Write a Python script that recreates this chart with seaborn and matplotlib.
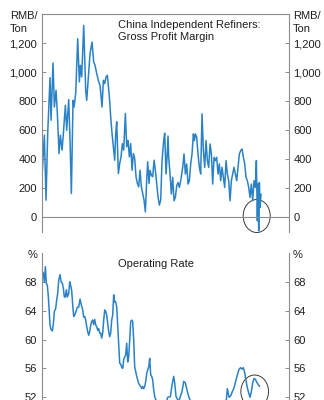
import matplotlib
matplotlib.use("Agg")
import matplotlib.pyplot as plt
import seaborn as sns
import pandas as pd
from matplotlib.patches import Ellipse

# ---- data (weeks since start of the time axis) ----
margin_week = [2, 8, 13, 18, 25, 28, 34, 38, 43, 47,
               52, 56, 61, 65, 71, 75, 81, 85, 89, 94,
               97, 102, 108, 113, 116, 120, 126, 132, 135, 140,
               145, 151, 156, 160, 165, 171, 175, 181, 185, 189,
               193, 197, 203, 207, 211, 215, 219, 222, 225, 230,
               234, 238, 242, 246, 251, 255, 259, 263, 267, 271,
               275, 279, 283, 287, 291, 295, 299, 303, 307, 311,
               315, 318, 322, 325, 329, 333, 337, 341, 345, 349,
               353, 357,
               361, 366, 369, 373, 376, 379, 381, 385, 389, 393,
               397, 401, 405, 409, 413, 417, 423, 427, 431, 435,
               439, 443, 447, 451, 455, 458, 461, 465, 469, 473,
               477, 481, 485, 489, 493, 497, 501, 505, 509, 513,
               517, 521, 525, 529, 533, 537, 541, 545, 549, 553,
               557, 561, 565, 569, 573, 577, 581, 585, 589, 593,
               597, 601, 605, 609, 613, 617, 621, 625, 629, 633,
               637, 641, 644, 647, 649, 651, 653, 655, 658]
margin_rmb = [325, 566, 119, 577, 962, 669, 1063, 760, 875, 715,
              440, 566, 463, 577, 772, 600, 811, 531, 165, 806,
              760, 852, 1230, 933, 1047, 967, 1322, 875, 806, 967,
              1127, 1207, 1070, 1047, 990, 933, 910, 760, 944, 921,
              967, 978, 829, 692, 577, 486, 394, 577, 658, 302,
              371, 417, 508, 463, 715, 486, 531, 417, 508, 325,
              440, 405, 280, 234, 211, 325, 211, 165, 119, 39,
              257, 383, 234, 325, 291, 280, 394, 325, 234, 142,
              85, 119,
              390, 529, 580, 299, 414, 560, 414, 299, 161, 276,
              115, 138, 218, 241, 207, 253, 345, 437, 299, 368,
              230, 253, 368, 437, 575, 529, 575, 552, 437, 345,
              299, 713, 460, 345, 529, 391, 345, 506, 437, 230,
              414, 391, 414, 299, 368, 253, 345, 276, 207, 391,
              299, 253, 115, 253, 299, 345, 299, 253, 345, 437,
              460, 471, 414, 368, 276, 253, 207, 138, 230, 115,
              253, 207, 391, -23, 230, -92, 241, 69, 161]

rate_week = [2, 5, 8, 11, 14, 17, 20, 23, 25, 28, 32, 35, 38, 42, 45, 48,
             51, 55, 58, 62, 65, 68, 71, 74, 77, 81, 84, 87, 90, 93, 96, 99,
             103, 107, 111, 115, 119, 123, 126, 129, 132, 135, 138, 141, 144,
             147, 150, 153, 156, 159, 162, 165, 168, 171, 174, 177, 180, 183,
             186, 189, 192, 195, 198, 201, 204, 207, 210, 213, 216, 219, 222,
             225, 228, 231, 234, 237, 240, 243, 246, 249, 252, 255, 258, 261,
             264, 267, 270, 273, 276, 279, 282, 285, 288, 291, 294, 297, 300,
             303, 306, 309, 312, 315, 318, 321, 324, 327, 330, 333, 336, 339,
             342, 346, 350, 355, 360, 365, 370, 375, 378, 386, 391, 396, 399,
             403, 411, 416, 421, 426, 431, 436, 441, 446, 452, 458, 464, 470,
             476, 482, 488, 494, 500, 506, 512, 518, 524, 530, 536, 542, 548,
             554, 557, 562, 567, 572, 577, 582, 587, 592, 597, 601, 605, 609,
             613, 617, 621, 625, 629, 633, 637, 641, 645, 649, 654]
rate_pct = [69.4, 69.2, 68.0, 70.1, 67.8, 67.5, 65.9, 63.6, 62.0, 61.4, 61.2,
            62.2, 63.9, 64.3, 65.5, 66.4, 68.2, 69.0, 68.0, 67.8, 67.1, 65.9,
            65.9, 66.9, 65.9, 66.4, 68.0, 67.5, 66.8, 64.8, 63.2, 63.4, 63.9,
            64.5, 64.5, 65.6, 64.8, 64.1, 63.1, 63.2, 62.7, 61.8, 61.1, 60.6,
            61.1, 62.0, 62.5, 62.7, 62.1, 62.8, 62.0, 61.8, 61.3, 61.5, 60.9,
            60.9, 60.2, 60.9, 62.7, 64.1, 63.9, 63.4, 62.2, 61.1, 60.4, 60.9,
            62.7, 63.4, 66.2, 65.2, 65.2, 64.5, 62.0, 59.2, 56.7, 56.6, 56.2,
            56.0, 57.2, 57.6, 57.9, 59.5, 56.9, 57.6, 59.9, 62.5, 62.7, 62.5,
            59.9, 56.2, 55.6, 54.9, 54.4, 53.9, 53.7, 53.5, 53.2, 53.5, 53.2,
            53.5, 54.2, 55.3, 55.8, 56.2, 57.4, 55.1, 54.9, 54.4, 53.0, 52.1,
            51.7, 51.4, 51.0, 50.6, 50.8, 51.2, 50.9, 51.5, 52.0, 52.1, 53.7,
            54.9, 54.0, 52.1, 51.4, 52.1, 52.8, 54.2, 54.0, 53.0, 52.1, 51.5,
            51.0, 50.5, 50.2, 50.6, 50.3, 49.8, 50.2, 50.7, 50.4, 50.0, 50.5,
            51.0, 50.7, 50.4, 50.9, 51.3, 51.0, 51.7, 53.2, 52.0, 52.2, 52.8,
            53.3, 54.2, 55.1, 55.9, 56.1, 55.9, 56.1, 55.4, 54.3, 53.3, 52.6,
            52.0, 52.8, 54.0, 54.6, 54.5, 54.1, 53.8, 53.5]

margin_ticks = [0, 200, 400, 600, 800, 1000, 1200]
margin_labels = ["0", "200", "400", "600", "800", "1,000", "1,200"]
rate_ticks = [52, 56, 60, 64, 68]

title_top = "China Independent Refiners:\nGross Profit Margin"
title_bottom = "Operating Rate"

# ---- style ----
sns.set_style("white")
plt.rcParams['font.family'] = ['Liberation Sans', 'DejaVu Sans']
LINE = "#2a82c6"
GRID = "#8c8c8c"
TXT = "#1e1e1e"

W, H = 324, 400
fig = plt.figure(figsize=(W / 100, H / 100), dpi=100)
ax1 = fig.add_axes([41.7 / W, 1 - 232 / H, 247 / W, 218 / H])
ax2 = fig.add_axes([41.7 / W, 1 - 455 / H, 247 / W, 202 / H])

df1 = pd.DataFrame({"week": margin_week, "value": margin_rmb})
df2 = pd.DataFrame({"week": rate_week, "value": rate_pct})
sns.lineplot(data=df1, x="week", y="value", ax=ax1, color=LINE, lw=1.1)
sns.lineplot(data=df2, x="week", y="value", ax=ax2, color=LINE, lw=1.1)

for ax in (ax1, ax2):
    ax.set_xlim(0, 741)
    ax.set_xticks([])
    ax.set_xlabel("")
    ax.set_ylabel("")
    for s in ax.spines.values():
        s.set_color(GRID)
        s.set_linewidth(0.8)
    ax.spines["bottom"].set_visible(False)
    ax.tick_params(axis="y", which="both", direction="in", length=3,
                   width=0.7, color=GRID, left=True, right=True,
                   labelleft=True, labelright=True, labelsize=8,
                   labelcolor=TXT, pad=3.5)

ax2.spines["top"].set_visible(False)

ax1.set_ylim(-100, 1400)
ax1.set_yticks(margin_ticks)
ax1.set_yticklabels(margin_labels)
ax1.axhline(0, color=GRID, lw=0.8)

ax2.set_ylim(44, 72)
ax2.set_yticks(rate_ticks)

# unit labels
fig.text(10 / W, 1 - 22.5 / H, "RMB/\nTon", ha="left", va="center",
         fontsize=8, color=TXT, linespacing=1.3)
fig.text(293 / W, 1 - 22.5 / H, "RMB/\nTon", ha="left", va="center",
         fontsize=8, color=TXT, linespacing=1.3)
fig.text(38 / W, 1 - 255 / H, "%", ha="right", va="center",
         fontsize=8, color=TXT)
fig.text(293 / W, 1 - 255 / H, "%", ha="left", va="center",
         fontsize=8, color=TXT)

# panel titles
fig.text(117.5 / W, 1 - 31 / H, title_top, ha="left", va="center",
         fontsize=8, color=TXT, linespacing=1.2)
fig.text(117.5 / W, 1 - 264 / H, title_bottom, ha="left", va="center",
         fontsize=8, color=TXT)

# highlight circles
ax1.add_patch(Ellipse((645, 10), width=81, height=227, fill=False,
                      ec="#3a3a3a", lw=0.7, clip_on=False))
ax2.add_patch(Ellipse((639, 52.8), width=83, height=4.57, fill=False,
                      ec="#3a3a3a", lw=0.7, clip_on=False))

fig.savefig("out.png", dpi=100)
